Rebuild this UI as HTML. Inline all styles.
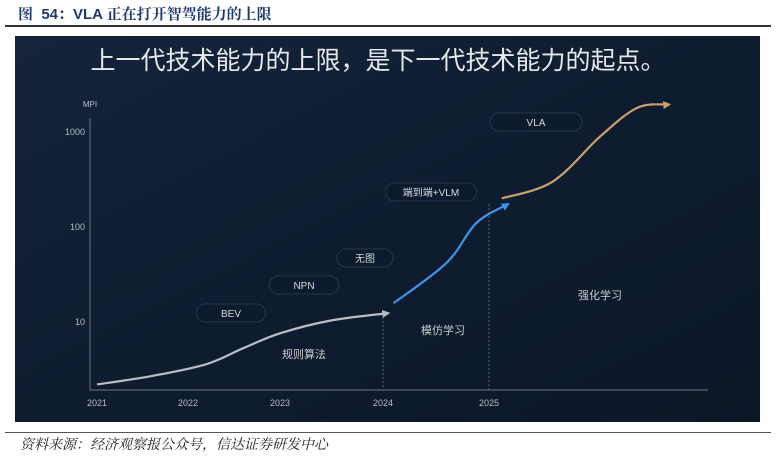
<!DOCTYPE html>
<html><head><meta charset="utf-8"><style>
body{margin:0;width:776px;height:460px;background:#fff;overflow:hidden;font-family:"Liberation Sans","Noto Sans CJK SC",sans-serif;position:relative}
.t{position:absolute;white-space:nowrap}
</style></head><body>
<div class="t" style="left:18px;top:3px;font-size:15px;font-weight:bold;color:#1f3a6e;font-family:'Liberation Sans','Noto Serif CJK SC',serif">图&nbsp; 54：VLA 正在打开智驾能力的上限</div>
<div style="position:absolute;left:5px;top:25px;width:766px;height:2px;background:#333"></div>
<svg width="776" height="460" style="position:absolute;left:0;top:0" xmlns="http://www.w3.org/2000/svg">
<defs>
<linearGradient id="bg" x1="0" y1="0" x2="1" y2="1"><stop offset="0" stop-color="#14243b"/><stop offset="0.5" stop-color="#0f1c30"/><stop offset="1" stop-color="#0b1727"/></linearGradient>
<marker id="ag" markerWidth="8" markerHeight="8" refX="6" refY="4" orient="auto" markerUnits="userSpaceOnUse"><path d="M0,0 L8,4 L0,8z" fill="#b9bcc4"/></marker>
<marker id="ab" markerWidth="8" markerHeight="8" refX="6" refY="4" orient="auto" markerUnits="userSpaceOnUse"><path d="M0,0 L8,4 L0,8z" fill="#3f93e8"/></marker>
<marker id="ao" markerWidth="8" markerHeight="8" refX="6" refY="4" orient="auto" markerUnits="userSpaceOnUse"><path d="M0,0 L8,4 L0,8z" fill="#caa06b"/></marker>
</defs>
<rect x="15" y="36" width="745" height="386" fill="url(#bg)"/>
<text x="378" y="69" text-anchor="middle" font-size="25" fill="#e6e8ec" font-family="Liberation Sans,Noto Sans CJK SC,sans-serif">上一代技术能力的上限，是下一代技术能力的起点。</text>
<g id="chart"></g>
</svg>
<div style="position:absolute;left:5px;top:432px;width:766px;height:1px;background:#555"></div>
<div class="t" style="left:20px;top:434px;font-size:14px;font-style:italic;color:#222;font-family:'Liberation Serif','Noto Serif CJK SC',serif">资料来源：经济观察报公众号，信达证券研发中心</div>
<script>
const yearTicks=[2021,2022,2023,2024,2025];
const yearTickPx=[97,188,280,383,489];
const yTicks=[10,100,1000];
const grayYears=[2021.0,2021.6,2022.2,2022.6,2023.0,2023.5,2024.05];
const grayVals=[2.2,2.7,3.6,5.3,7.6,10.4,12.4];
const blueYears=[2024.1,2024.6,2024.88,2025.18];
const blueVals=[15.8,42,110,174];
const orangeYears=[2025.12,2025.6,2026.05,2026.4,2026.7];
const orangeVals=[200,300,900,1800,1950];
const pillLabels=["BEV","NPN","无图","端到端+VLM","VLA"];
const stageLabels=["规则算法","模仿学习","强化学习"];
const NS="http://www.w3.org/2000/svg";
const g=document.getElementById('chart');
function xs(y){if(y<=2021)return 97;const i=Math.min(3,Math.floor(y-2021));if(y>=2025)return 489+(y-2025)*106;return yearTickPx[i]+(y-2021-i)*(yearTickPx[i+1]-yearTickPx[i]);}
function ys(v){return 322-(Math.log10(v)-1)*95;}
function el(t,a,p){const e=document.createElementNS(NS,t);for(const k in a)e.setAttribute(k,a[k]);(p||g).appendChild(e);return e;}
function txt(x,y,s,size,fill,anchor){const e=el('text',{x:x,y:y,'font-size':size,fill:fill,'text-anchor':anchor||'middle','font-family':'Liberation Sans,Noto Sans CJK SC,sans-serif'});e.textContent=s;return e;}
let a=el('line',{x1:90,y1:118,x2:90,y2:390,stroke:'#6b7686','stroke-width':1});


a=el('line',{x1:90,y1:390,x2:708,y2:390,stroke:'#6b7686','stroke-width':1});


let m=txt(90,107,'MPI',8,'#b8bec8');


yTicks.forEach(v=>{const t=txt(85,ys(v)+3,String(v),9,'#b8bec8','end');

});
yearTicks.forEach(y=>{const t=txt(xs(y),406,String(y),9,'#b8bec8');

});
[[2024,12.4],[2025,174]].forEach(d=>{const l=el('line',{x1:xs(d[0]),y1:ys(d[1]),x2:xs(d[0]),y2:390,stroke:'#5a6575','stroke-width':1,'stroke-dasharray':'2,2'});

});
function curve(xsA,vs,color,mk,name){
const p=xsA.map((y,i)=>[xs(y),ys(vs[i])]);
let d='M'+p[0][0]+','+p[0][1];
for(let i=0;i<p.length-1;i++){const p0=p[i-1]||p[i],p1=p[i],p2=p[i+1],p3=p[i+2]||p2;
d+=' C'+(p1[0]+(p2[0]-p0[0])/6)+','+(p1[1]+(p2[1]-p0[1])/6)+' '+(p2[0]-(p3[0]-p1[0])/6)+','+(p2[1]-(p3[1]-p1[1])/6)+' '+p2[0]+','+p2[1];}
const e=el('path',{d:d,fill:'none',stroke:color,'stroke-width':2.2,'marker-end':'url(#'+mk+')'});

}
curve(grayYears,grayVals,'#b9bcc4','ag','rule-based-curve');
curve(blueYears,blueVals,'#3f93e8','ab','imitation-learning-curve');
curve(orangeYears,orangeVals,'#caa06b','ao','reinforcement-learning-curve');
const pillPos=[[231,313,69],[304,285,69],[365,258,56],[431,192,91],[536,122,92]];
pillLabels.forEach((s,i)=>{const [cx,cy,w]=pillPos[i];
const r=el('rect',{x:cx-w/2,y:cy-9,width:w,height:18,rx:9,fill:'#0c1a2d',stroke:'#26364c','stroke-width':1});


const t=txt(cx,cy+4,s,10,'#d6d9de');

});
const stagePos=[[304,358],[443,334],[600,299]];
stageLabels.forEach((s,i)=>{const t=txt(stagePos[i][0],stagePos[i][1],s,11,'#c8ccd3');

});
</script>
</body></html>
